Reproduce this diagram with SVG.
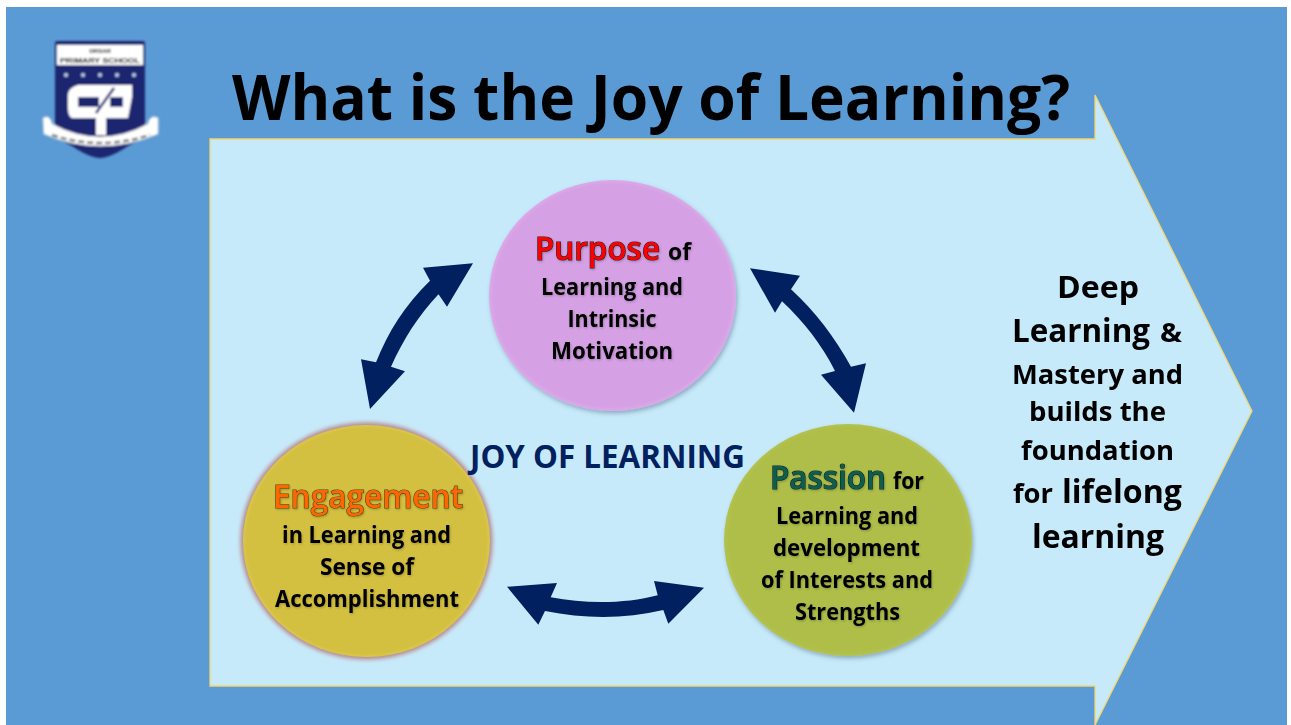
<svg xmlns="http://www.w3.org/2000/svg" width="1291" height="725" viewBox="0 0 1291 725">
<style>
text{font-family:"Open Sans","Noto Sans","Liberation Sans",sans-serif;font-weight:700;fill:#000;text-anchor:middle}
.b{font-size:23px;filter:url(#ts)}
.h{font-size:32px;font-weight:600;paint-order:stroke;stroke-width:1.2px;text-anchor:start;filter:url(#ts)}
.r{filter:url(#ts2)}
</style>
<defs>
<filter id="ts" x="-10%" y="-20%" width="120%" height="150%"><feDropShadow dx=".8" dy="1.2" stdDeviation=".9" flood-color="#000" flood-opacity=".22"/></filter>
<filter id="ts2" x="-10%" y="-20%" width="120%" height="150%"><feGaussianBlur stdDeviation=".35"/></filter>
<filter id="sh" x="-15%" y="-15%" width="130%" height="130%"><feDropShadow dx="1.5" dy="2.500" stdDeviation="2" flood-color="#35506a" flood-opacity=".4"/></filter>
<filter id="glow" x="-15%" y="-15%" width="130%" height="130%"><feGaussianBlur stdDeviation="2.200"/></filter>
<filter id="lb" x="-10%" y="-10%" width="120%" height="120%"><feGaussianBlur stdDeviation="1.100"/></filter>
<radialGradient id="gp"><stop offset=".96" stop-color="#D5A0E4"/><stop offset="1" stop-color="#DBAAE9"/></radialGradient>
<radialGradient id="ge"><stop offset=".97" stop-color="#D4C040"/><stop offset="1" stop-color="#DAC64C"/></radialGradient>
<radialGradient id="gg"><stop offset=".96" stop-color="#AEBE48"/><stop offset="1" stop-color="#B4C250"/></radialGradient>
</defs>
<rect width="1291" height="725" fill="#fff"/>
<rect x="6" y="7" width="1281" height="718" fill="#5B9BD5"/>
<g id="logo" filter="url(#lb)">
<path d="M55 43Q55 41 58 41H142Q145 41 145 43V125Q145 138 128 146Q110 158 100 158Q90 158 72 146Q55 138 55 125Z" fill="#1B2570"/>
<rect x="57" y="45" width="86" height="20" fill="#fff"/>
<text x="100" y="53" style="font-size:6px;font-family:'Liberation Sans',sans-serif">ORSAR</text>
<text x="100" y="63" textLength="80" lengthAdjust="spacingAndGlyphs" style="font-size:7px;font-family:'Liberation Sans',sans-serif">PRIMARY SCHOOL</text>
<g fill="#bcd0ee"><circle cx="66" cy="75" r="2"/><circle cx="83" cy="75" r="2"/><circle cx="100" cy="75" r="2"/><circle cx="117" cy="75" r="2"/><circle cx="134" cy="75" r="2"/></g>
<path d="M78 85H132V97L128 118H106V135H96V118H72Q68 116 68 108V95Q68 88 78 85Z" fill="#fff"/>
<rect x="78" y="97" width="21" height="10" fill="#1B2570"/><rect x="110" y="97" width="13" height="10" fill="#1B2570"/>
<path d="M96 113L114 88" stroke="#1B2570" stroke-width="2.500"/>
<path d="M43 118Q50 114 52 124Q100 150 148 124Q150 114 158 118V134Q100 158 44 134Z" fill="#fff" stroke="#ddd"/>
<path d="M52 135Q100 151 150 135" fill="none" stroke="#777" stroke-width="2.500" stroke-dasharray="6 3"/>
</g>
<g id="big-arrow"><path d="M210 139H1095V95L1252 411L1095 725V686H210Z" fill="#C7EAFA" stroke="#F4D66E" stroke-width="1.300"/></g>
<text id="title" x="651" y="120" style="font-size:63px" textLength="838" lengthAdjust="spacingAndGlyphs">What is the Joy of Learning?</text>
<g id="connectors" fill="#002060">
<path d="M473 263.300L423 267.700L430 280.700C405 305 388 332 376 362.300L361 359.300L370 409L405 371.300L391 366.700C403 340 418 316 438.500 294.300L447 306.700Z"/>
<path d="M750 268.300L800 275.700L791 289.300C815 311 835 338 851 366.700L866 363.300L854 412.700L821 374.700L835 371C822 345 804 322 782 301.300L775 312.700Z"/>
<path d="M507 586.700L557 583L550.700 597.300C585 604 625 604 657.700 595.300L654 581L704 587.700L668.300 623.700L663.300 610C625 619 585 619 545 611L538.300 624.700Z"/>
</g>
<g id="purpose">
<ellipse cx="612.500" cy="295.500" rx="123.500" ry="115.500" fill="url(#gp)" filter="url(#sh)"/>
<text class="h" x="535" y="260" stroke="#222" style="fill:#FF0000" textLength="125" lengthAdjust="spacingAndGlyphs">Purpose</text>
<text class="b" x="679.500" y="260" textLength="23" lengthAdjust="spacingAndGlyphs">of</text>
<text class="b" x="612" y="295" textLength="142" lengthAdjust="spacingAndGlyphs">Learning and</text>
<text class="b" x="612" y="327" textLength="89" lengthAdjust="spacingAndGlyphs">Intrinsic</text>
<text class="b" x="612" y="359" textLength="122" lengthAdjust="spacingAndGlyphs">Motivation</text>
</g>
<g id="engagement">
<ellipse cx="366.500" cy="541" rx="126" ry="118.500" fill="#B5888E" filter="url(#glow)"/>
<ellipse cx="366.500" cy="541" rx="123.500" ry="116" fill="url(#ge)"/>
<text class="h" x="273" y="508" stroke="#4a4a20" style="fill:#FF6600" textLength="190" lengthAdjust="spacingAndGlyphs">Engagement</text>
<text class="b" x="366.500" y="543" textLength="169" lengthAdjust="spacingAndGlyphs">in Learning and</text>
<text class="b" x="367" y="575" textLength="94" lengthAdjust="spacingAndGlyphs">Sense of</text>
<text class="b" x="367" y="607" textLength="184" lengthAdjust="spacingAndGlyphs">Accomplishment</text>
</g>
<g id="passion">
<ellipse cx="848" cy="540" rx="124" ry="116" fill="url(#gg)" filter="url(#sh)"/>
<text class="h" x="770" y="489" stroke="#123" style="fill:#0F5F4C" textLength="116" lengthAdjust="spacingAndGlyphs">Passion</text>
<text class="b" x="908.500" y="489" textLength="31" lengthAdjust="spacingAndGlyphs">for</text>
<text class="b" x="847" y="524" textLength="142" lengthAdjust="spacingAndGlyphs">Learning and</text>
<text class="b" x="846.500" y="556" textLength="147" lengthAdjust="spacingAndGlyphs">development</text>
<text class="b" x="847" y="588" textLength="172" lengthAdjust="spacingAndGlyphs">of Interests and</text>
<text class="b" x="847.500" y="620" textLength="105" lengthAdjust="spacingAndGlyphs">Strengths</text>
</g>
<text id="center-label" x="607.500" y="468" style="font-size:32px;fill:#002060" textLength="275" lengthAdjust="spacingAndGlyphs">JOY OF LEARNING</text>
<g id="outcome" class="r">
<text x="1098" y="298" style="font-size:31px" textLength="82" lengthAdjust="spacingAndGlyphs">Deep</text>
<text x="1081" y="342" style="font-size:33px" textLength="138" lengthAdjust="spacingAndGlyphs">Learning</text>
<text x="1171" y="342" style="font-size:26px" textLength="22" lengthAdjust="spacingAndGlyphs">&amp;</text>
<text x="1097.500" y="384" style="font-size:27px" textLength="171" lengthAdjust="spacingAndGlyphs">Mastery and</text>
<text x="1097.500" y="421" style="font-size:27px" textLength="137" lengthAdjust="spacingAndGlyphs">builds the</text>
<text x="1097.500" y="460" style="font-size:27px" textLength="153" lengthAdjust="spacingAndGlyphs">foundation</text>
<text x="1033" y="503" style="font-size:27px" textLength="40" lengthAdjust="spacingAndGlyphs">for</text>
<text x="1122" y="503" style="font-size:33px" textLength="120" lengthAdjust="spacingAndGlyphs">lifelong</text>
<text x="1098" y="548" style="font-size:33px" textLength="132" lengthAdjust="spacingAndGlyphs">learning</text>
</g>
</svg>
